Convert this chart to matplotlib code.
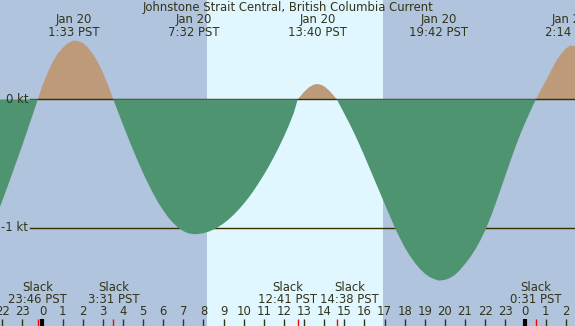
import matplotlib
matplotlib.use('Agg')
import matplotlib.pyplot as plt

# current speed (kt), hours from Jan 20 00:00 PST
hours = [-2.25, -2.0, -1.75, -1.5, -1.25, -1.0, -0.75, -0.5, -0.233,
         0.0, 0.25, 0.5, 0.75, 1.0, 1.25, 1.55, 1.75, 2.0, 2.25, 2.5, 2.75, 3.0, 3.25, 3.517,
         3.75, 4.0, 4.25, 4.5, 4.75, 5.0, 5.25, 5.5, 5.75, 6.0, 6.25, 6.5, 6.75, 7.0, 7.25, 7.55,
         7.75, 8.0, 8.25, 8.5, 8.75, 9.0, 9.25, 9.5, 9.75, 10.0, 10.25, 10.5, 10.75, 11.0,
         11.25, 11.5, 11.75, 12.0, 12.25, 12.5, 12.683,
         12.9, 13.0, 13.25, 13.5, 13.667, 13.85, 14.0, 14.25, 14.45, 14.633,
         14.8, 15.0, 15.25, 15.5, 15.75, 16.0, 16.25, 16.5, 16.75, 17.0, 17.25, 17.5, 17.75,
         18.0, 18.25, 18.5, 18.75, 19.0, 19.25, 19.5, 19.7,
         20.0, 20.25, 20.5, 20.75, 21.0, 21.25, 21.5, 21.75, 22.0, 22.25, 22.5, 22.75, 23.0,
         23.25, 23.5, 23.75, 24.0, 24.25, 24.517,
         24.75, 25.0, 25.25, 25.5, 25.75, 26.0, 26.233, 26.5]
speed = [-0.89, -0.79, -0.683, -0.575, -0.465, -0.355, -0.24, -0.125, 0.0,
         0.11, 0.205, 0.29, 0.355, 0.40, 0.437, 0.458, 0.455, 0.44, 0.405, 0.355, 0.29, 0.21, 0.115, 0.0,
         -0.095, -0.196, -0.295, -0.392, -0.485, -0.573, -0.655, -0.732, -0.802, -0.863, -0.918,
         -0.962, -0.999, -1.025, -1.042, -1.049,
         -1.047, -1.041, -1.029, -1.013, -0.991, -0.965, -0.934, -0.898, -0.857, -0.812, -0.763,
         -0.709, -0.649, -0.587, -0.520, -0.448, -0.371, -0.289, -0.20, -0.10, 0.0,
         0.041, 0.059, 0.095, 0.116, 0.12, 0.114, 0.102, 0.069, 0.035, 0.0,
         -0.05, -0.11, -0.185, -0.265, -0.35, -0.44, -0.532, -0.625, -0.717, -0.81, -0.902,
         -0.993, -1.075, -1.15, -1.215, -1.27, -1.317, -1.355, -1.383, -1.40, -1.41,
         -1.404, -1.39, -1.365, -1.327, -1.28, -1.23, -1.17, -1.10, -1.02, -0.925, -0.82,
         -0.708, -0.595, -0.482, -0.372, -0.27, -0.178, -0.09, 0.0,
         0.07, 0.14, 0.215, 0.29, 0.35, 0.395, 0.42, 0.415]

# maximum current events
max_hours = [1.55, 7.533, 13.667, 19.7, 26.233]
max_dates = ['Jan 20', 'Jan 20', 'Jan 20', 'Jan 20', 'Jan 21']
max_times = ['1:33 PST', '7:32 PST', '13:40 PST', '19:42 PST', '2:14 PST']

# slack events
slack_hours = [-0.233, 3.517, 12.683, 14.633, 24.517]
slack_times = ['23:46 PST', '3:31 PST', '12:41 PST', '14:38 PST', '0:31 PST']
slack_nudge = [0, 0, -0.5, 0.62, 0]   # label shift so neighbours don't overlap

sunrise, sunset = 8.19, 16.91
tick_hours = list(range(-2, 27))
midnights = [0, 24]
levels = [0, -1]
level_labels = ['0 kt', '-1 kt']

night = '#b0c4de'
day = '#e0f7ff'
flood = '#bc9a7a'
ebb = '#4f9470'
ink = '#333319'

fig = plt.figure(figsize=(5.75, 3.26), dpi=100, facecolor=night)
ax = fig.add_axes([0, 0, 1, 1])
ax.set_xlim(-2.112, 26.466)
ax.set_ylim(-1.763, 0.774)
ax.set_facecolor(night)
ax.set_xticks([])
ax.set_yticks([])
for s in ax.spines.values():
    s.set_visible(False)

ax.axvspan(sunrise, sunset, color=day, lw=0, zorder=1)

ax.fill_between(hours, speed, 0, where=[v >= 0 for v in speed], interpolate=True,
                color=flood, lw=0, zorder=2)
for lv in levels:
    ax.axhline(lv, xmin=30 / 575, color='#333300', lw=1, zorder=3)
ax.fill_between(hours, speed, 0, where=[v <= 0 for v in speed], interpolate=True,
                color=ebb, lw=0, zorder=4)

fs = 8.4
tx = ax.get_xaxis_transform()
ty = ax.get_yaxis_transform()

ax.text(0.5, 0.9785, 'Johnstone Strait Central, British Columbia Current', transform=ax.transAxes,
        ha='center', va='center', fontsize=fs, color=ink, zorder=6)

for h, d, t in zip(max_hours, max_dates, max_times):
    ax.text(h, 0.9387, d, transform=tx, ha='center', va='center', fontsize=fs, color=ink, zorder=6)
    ax.text(h, 0.9018, t, transform=tx, ha='center', va='center', fontsize=fs, color=ink, zorder=6)

for h, t, n in zip(slack_hours, slack_times, slack_nudge):
    ax.text(h + n, 0.118, 'Slack', transform=tx, ha='center', va='center', fontsize=fs, color=ink, zorder=6)
    ax.text(h + n, 0.0828, t, transform=tx, ha='center', va='center', fontsize=fs, color=ink, zorder=6)

for lv, lab in zip(levels, level_labels):
    ax.text(28 / 575, lv, lab, transform=ty, ha='right', va='center', fontsize=fs, color=ink, zorder=6)

# hour ticks along the bottom
for h in tick_hours:
    ax.text(h, 0.0445, str(h % 24), transform=tx, ha='center', va='center', fontsize=fs, color=ink, zorder=6)
    if h not in midnights:
        ax.vlines(h, 0, 7 / 326, transform=tx, color=ink, lw=1, zorder=6)
ax.vlines(midnights, 0, 7 / 326, transform=tx, color='black', lw=3, zorder=6)
ax.vlines(slack_hours, 0, 7 / 326, transform=tx, color='red', lw=1, zorder=6)

fig.savefig('out.png', dpi=100, facecolor=night)
